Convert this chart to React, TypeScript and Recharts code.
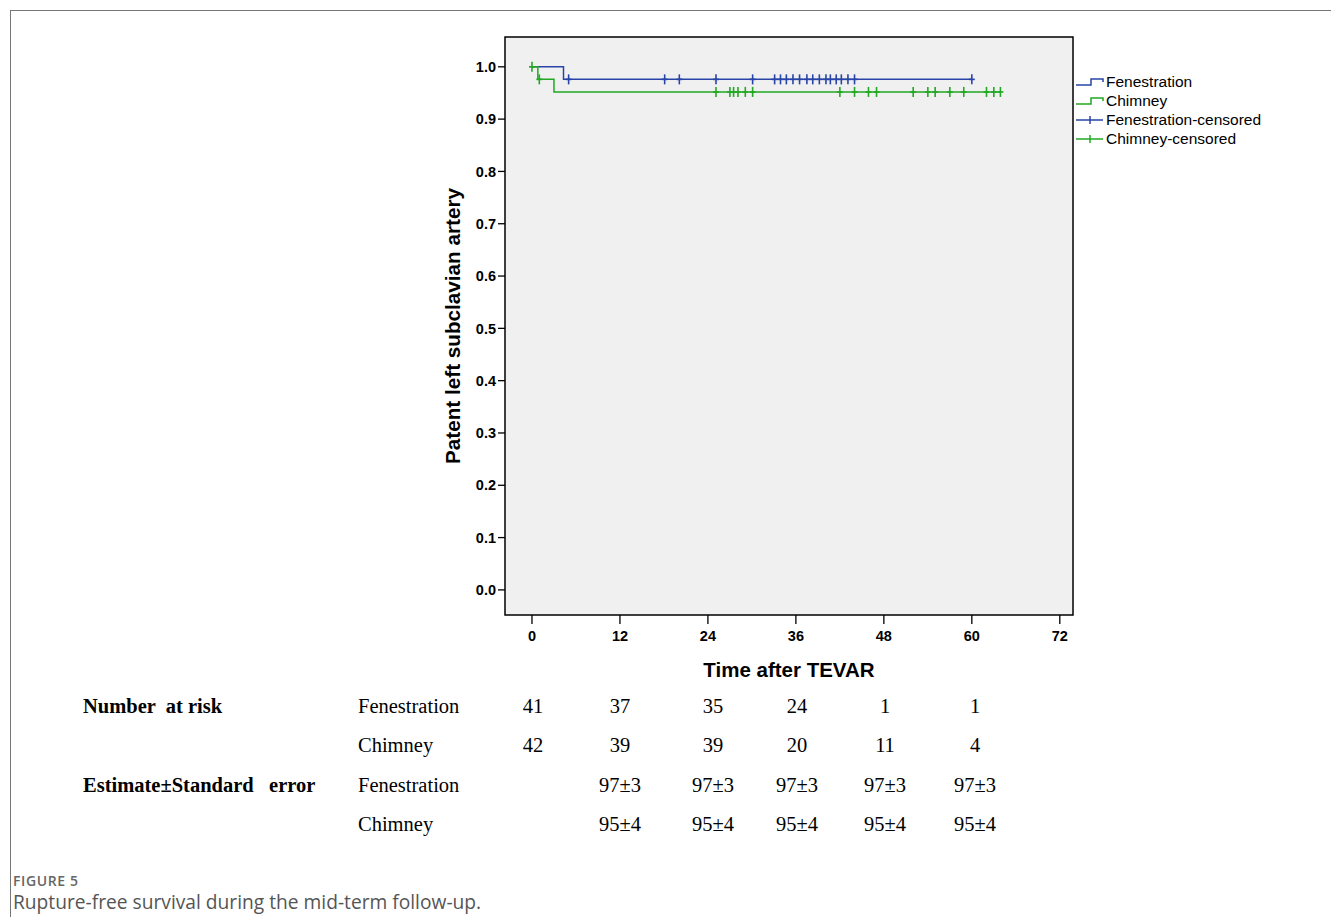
import React from "react";
import {
  ComposedChart,
  Line,
  Scatter,
  XAxis,
  YAxis,
  ReferenceArea,
} from "recharts";

// ---------- data ----------
const timeTicks = [0, 12, 24, 36, 48, 60, 72];
const survTicks = [0, 0.1, 0.2, 0.3, 0.4, 0.5, 0.6, 0.7, 0.8, 0.9, 1.0];

// Kaplan-Meier step points
const fenTimes = [0, 4.3, 60];
const fenSurv = [1.0, 0.976, 0.976];
const chimTimes = [0, 0.8, 3.0, 64];
const chimSurv = [1.0, 0.976, 0.952, 0.952];

// censored observations (months)
const fenCensorTimes = [
  5.0, 18.1, 20.1, 25.1, 30.1, 33.1, 33.9, 34.7, 35.6, 36.5, 37.5, 38.3, 39.2,
  40.1, 40.7, 41.5, 42.2, 43.1, 44.0, 60.0,
];
const chimCensorTimes = [
  0, 1.0, 25.1, 27.0, 27.5, 28.1, 29.1, 30.1, 42.0, 44.0, 45.9, 47.0, 52.0,
  54.0, 55.0, 57.0, 58.9, 62.0, 63.0, 63.9,
];

// number at risk / estimates table
const riskColumns = ["0", "12", "24", "36", "48", "60"];
const fenAtRisk = ["41", "37", "35", "24", "1", "1"];
const chimAtRisk = ["42", "39", "39", "20", "11", "4"];
const fenEstimate = ["", "97±3", "97±3", "97±3", "97±3", "97±3"];
const chimEstimate = ["", "95±4", "95±4", "95±4", "95±4", "95±4"];

const legendLabels = [
  "Fenestration",
  "Chimney",
  "Fenestration-censored",
  "Chimney-censored",
];

// ---------- helpers / styles ----------
const BLUE = "#2844a8";
const GREEN = "#22a822";

const toPoints = (ts: number[], ss: number[]) =>
  ts.map((t, i) => ({ t, s: ss[i] }));

const stepValue = (ts: number[], ss: number[], t: number) => {
  let v = ss[0];
  for (let i = 0; i < ts.length; i++) if (ts[i] <= t) v = ss[i];
  return v;
};

const fenLine = toPoints(fenTimes, fenSurv);
const chimLine = toPoints(chimTimes, chimSurv);
const fenCensor = fenCensorTimes.map((t) => ({
  t,
  s: stepValue(fenTimes, fenSurv, t),
}));
const chimCensor = chimCensorTimes.map((t, i) => ({
  t,
  s: i === 0 ? 1.0 : stepValue(chimTimes, chimSurv, t),
}));

const censorShape = (color: string) => (props: any) => {
  const { cx, cy } = props;
  if (cx == null || cy == null) return <g />;
  return (
    <g>
      <line x1={cx} x2={cx} y1={cy - 5} y2={cy + 5} stroke={color} strokeWidth={1.6} />
      <line x1={cx - 3} x2={cx + 3} y1={cy} y2={cy} stroke={color} strokeWidth={1.6} />
    </g>
  );
};

const SANS = "'Liberation Sans', Arial, sans-serif";
const SERIF = "'Liberation Serif', 'Times New Roman', serif";

const LegendBlock = () => (
  <div
    style={{
      position: "absolute",
      left: 1075,
      top: 73,
      fontFamily: SANS,
      fontSize: 15.5,
      color: "#000",
    }}
  >
    {legendLabels.map((lab, i) => {
      const color = i % 2 === 0 ? BLUE : GREEN;
      const censored = i >= 2;
      return (
        <div
          key={lab}
          style={{ display: "flex", alignItems: "center", height: i === 2 ? 19.5 : 18.5 }}
        >
          <svg width={31} height={12} style={{ display: "block" }}>
            {censored ? (
              <g stroke={color} strokeWidth={1.5} fill="none">
                <line x1={1} x2={28} y1={6} y2={6} />
                <line x1={15} x2={15} y1={2} y2={10} />
              </g>
            ) : (
              <path
                d="M1,9 H16 V3 H28 V6"
                stroke={color}
                strokeWidth={1.5}
                fill="none"
              />
            )}
          </svg>
          <span style={{ whiteSpace: "nowrap" }}>{lab}</span>
        </div>
      );
    })}
  </div>
);

const YLabel = (props: any) => {
  const vb = props.viewBox || { x: 445, y: 37, width: 60, height: 578 };
  const x = vb.x + 7;
  const y = vb.y + vb.height / 2;
  return (
    <text
      x={x}
      y={y}
      transform={`rotate(-90 ${x} ${y})`}
      textAnchor="middle"
      dominantBaseline="central"
      fontFamily={SANS}
      fontWeight="bold"
      fontSize={20.7}
      fill="#000"
    >
      Patent left subclavian artery
    </text>
  );
};

const XLabel = (props: any) => {
  const vb = props.viewBox || { x: 505, y: 615, width: 568, height: 40 };
  return (
    <text
      x={vb.x + vb.width / 2}
      y={vb.y + 54}
      textAnchor="middle"
      dominantBaseline="central"
      fontFamily={SANS}
      fontWeight="bold"
      fontSize={20.5}
      fill="#000"
    >
      Time after TEVAR
    </text>
  );
};

const COL_X = [533, 620, 713, 797, 885, 975];
const ROW_Y = [706, 745, 785, 824];

const cell = (text: string, cx: number, cy: number, key: string) => (
  <div
    key={key}
    style={{
      position: "absolute",
      left: cx - 50,
      top: cy - 12,
      width: 100,
      height: 24,
      lineHeight: "24px",
      textAlign: "center",
      fontFamily: SERIF,
      fontSize: 20.5,
      color: "#000",
      whiteSpace: "pre",
    }}
  >
    {text}
  </div>
);

const leftText = (text: string, x: number, cy: number, bold: boolean, key: string) => (
  <div
    key={key}
    style={{
      position: "absolute",
      left: x,
      top: cy - 12,
      height: 24,
      lineHeight: "24px",
      fontFamily: SERIF,
      fontSize: 20.5,
      fontWeight: bold ? "bold" : "normal",
      color: "#000",
      whiteSpace: "pre",
    }}
  >
    {text}
  </div>
);

export default function App() {
  const rows = [fenAtRisk, chimAtRisk, fenEstimate, chimEstimate];
  const rowNames = ["Fenestration", "Chimney", "Fenestration", "Chimney"];
  return (
    <div
      style={{
        position: "absolute",
        left: 0,
        top: 0,
        width: 1331,
        height: 917,
        background: "#fff",
        overflow: "hidden",
      }}
    >
      {/* figure frame */}
      <div
        style={{
          position: "absolute",
          left: 10,
          top: 10,
          width: 1331,
          height: 917,
          borderTop: "1px solid #777",
          borderLeft: "1px solid #777",
        }}
      />
      <div style={{ position: "absolute", left: 0, top: 0 }}>
        <ComposedChart
          width={1331}
          height={700}
          margin={{ top: 37, right: 258, left: 445, bottom: 45 }}
        >
          <XAxis
            type="number"
            dataKey="t"
            domain={[-3.68, 73.8]}
            ticks={timeTicks}
            allowDataOverflow
            axisLine={false}
            tickLine={{ stroke: "#000", strokeWidth: 1.3 }}
            tickSize={9}
            tickMargin={7}
            height={40}
            tick={{ fill: "#000", fontSize: 14.5, fontWeight: "bold", fontFamily: SANS }}
            label={<XLabel />}
          />
          <YAxis
            type="number"
            dataKey="s"
            domain={[-0.048, 1.057]}
            ticks={survTicks}
            allowDataOverflow
            axisLine={false}
            tickLine={{ stroke: "#000", strokeWidth: 1.3 }}
            tickSize={7}
            tickMargin={2}
            width={60}
            tickFormatter={(v: number) => v.toFixed(1)}
            tick={{ fill: "#000", fontSize: 14.5, fontWeight: "bold", fontFamily: SANS }}
            label={<YLabel />}
          />
          <ReferenceArea
            x1={-3.68}
            x2={73.8}
            y1={-0.048}
            y2={1.057}
            fill="#f0f0f0"
            fillOpacity={1}
            stroke="#000"
            strokeWidth={1.5}
            ifOverflow="visible"
          />
          <Line
            data={fenLine}
            dataKey="s"
            type="stepAfter"
            stroke={BLUE}
            strokeWidth={1.5}
            dot={false}
            isAnimationActive={false}
            legendType="none"
          />
          <Line
            data={chimLine}
            dataKey="s"
            type="stepAfter"
            stroke={GREEN}
            strokeWidth={1.5}
            dot={false}
            isAnimationActive={false}
            legendType="none"
          />
          <Scatter
            data={fenCensor}
            dataKey="s"
            shape={censorShape(BLUE)}
            isAnimationActive={false}
            legendType="none"
          />
          <Scatter
            data={chimCensor}
            dataKey="s"
            shape={censorShape(GREEN)}
            isAnimationActive={false}
            legendType="none"
          />
        </ComposedChart>
      </div>
      <LegendBlock />

      {/* number at risk table */}
      {leftText("Number  at risk", 83, ROW_Y[0], true, "h1")}
      {leftText("Estimate±Standard   error", 83, ROW_Y[2], true, "h2")}
      {rowNames.map((n, i) => leftText(n, 358, ROW_Y[i], false, "rn" + i))}
      {rows.map((r, i) =>
        r.map((v, j) => (v ? cell(v, COL_X[j], ROW_Y[i], `c${i}-${j}-${riskColumns[j]}`) : null))
      )}

      {/* caption */}
      <div
        style={{
          position: "absolute",
          left: 13,
          top: 873,
          height: 16,
          lineHeight: "16px",
          fontFamily: "'Open Sans', sans-serif",
          fontSize: 14,
          fontWeight: 600,
          color: "#666",
          letterSpacing: 0.6,
        }}
      >
        FIGURE 5
      </div>
      <div
        style={{
          position: "absolute",
          left: 13,
          top: 891,
          height: 22,
          lineHeight: "22px",
          fontFamily: "'Open Sans', sans-serif",
          fontSize: 19.2,
          color: "#555",
          whiteSpace: "nowrap",
        }}
      >
        Rupture-free survival during the mid-term follow-up.
      </div>
    </div>
  );
}
